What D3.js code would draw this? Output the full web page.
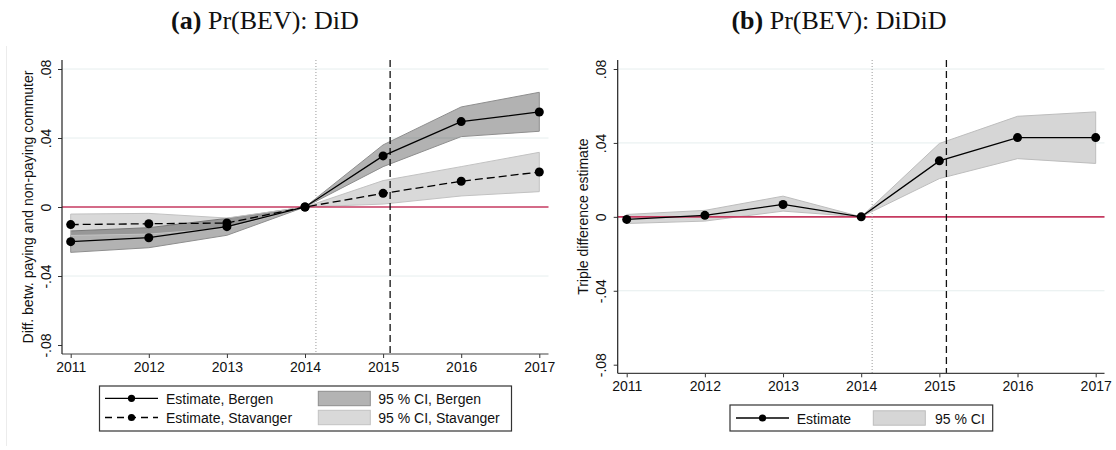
<!DOCTYPE html>
<html><head><meta charset="utf-8">
<script src="https://cdn.jsdelivr.net/npm/d3@7"></script>
<style>body{margin:0;background:#fff}</style>
</head><body><svg id="chart" width="1116" height="450"></svg>
<script>
// Event-study estimates of Pr(BEV), relative to 2014
const years = [2011, 2012, 2013, 2014, 2015, 2016, 2017];

const bergenEst = [-0.0201, -0.0178, -0.0114, 0, 0.0296, 0.0495, 0.0551];
const bergenLo  = [-0.0263, -0.0236, -0.0164, 0, 0.0234, 0.0408, 0.0439];
const bergenHi  = [-0.0139, -0.0120, -0.0066, 0, 0.0360, 0.0580, 0.0665];

const stavEst = [-0.0102, -0.0097, -0.0093, 0, 0.0079, 0.0149, 0.0203];
const stavLo  = [-0.0165, -0.0157, -0.0123, 0, 0.0017, 0.0064, 0.0089];
const stavHi  = [-0.0041, -0.0037, -0.0064, 0, 0.0153, 0.0234, 0.0317];

const tripleEst = [-0.0014, 0.0008, 0.0067, 0, 0.0303, 0.0429, 0.0429];
const tripleLo  = [-0.0036, -0.0023, 0.0031, 0, 0.0207, 0.0315, 0.0289];
const tripleHi  = [0.0013, 0.0035, 0.0112, 0, 0.0397, 0.0544, 0.0568];

const yTicks = [-0.08, -0.04, 0, 0.04, 0.08];
const yTickLabels = ["-.08", "-.04", "0", ".04", ".08"];
const gridValues = [-0.04, 0.04, 0.08];

// announcement (dotted) and introduction (dashed) of the toll change
const announceYear = 2014.14;
const introYear = 2015.09;

const titles = ["Pr(BEV): DiD", "Pr(BEV): DiDiD"];
const titleTags = ["(a)", "(b)"];
const yLabels = ["Diff. betw. paying and non-paying commuter", "Triple difference estimate"];

const svg = d3.select("#chart");
const SANS = "'Liberation Sans', Arial, sans-serif";
const SERIF = "'Liberation Serif', 'Times New Roman', serif";

function makeSeries(est, lo, hi) {
  return years.map((yr, i) => ({ year: yr, est: est[i], lo: lo[i], hi: hi[i] }));
}

function drawPanel(cfg) {
  const g = svg.append("g");
  const x = d3.scaleLinear().domain([2011, 2017]).range(cfg.xRange);
  const y = d3.scaleLinear().domain([-0.08, 0.08]).range(cfg.yRange);
  const f = cfg.frame;

  // gridlines
  g.selectAll("line.grid").data(gridValues).join("line")
    .attr("x1", f.left).attr("x2", f.right)
    .attr("y1", d => y(d)).attr("y2", d => y(d))
    .attr("stroke", "#e6eeee").attr("stroke-width", 1);

  // confidence bands
  const area = d3.area().x(d => x(d.year)).y0(d => y(d.lo)).y1(d => y(d.hi));
  cfg.bands.forEach(b => {
    g.append("path").datum(b.data).attr("d", area)
      .attr("fill", b.fill).attr("stroke", b.stroke).attr("stroke-width", 1);
  });

  // zero reference line
  g.append("line").attr("x1", f.left).attr("x2", f.right)
    .attr("y1", y(0)).attr("y2", y(0))
    .attr("stroke", "#c63a60").attr("stroke-width", 1.6);

  // policy timing lines
  g.append("line").attr("x1", x(announceYear)).attr("x2", x(announceYear))
    .attr("y1", f.top).attr("y2", f.bottom)
    .attr("stroke", "#9a9a9a").attr("stroke-width", 1).attr("stroke-dasharray", "1,2");
  g.append("line").attr("x1", x(introYear)).attr("x2", x(introYear))
    .attr("y1", f.top).attr("y2", f.bottom)
    .attr("stroke", "#111").attr("stroke-width", 1.3).attr("stroke-dasharray", "7,4");

  // estimate lines and markers
  const line = d3.line().x(d => x(d.year)).y(d => y(d.est));
  cfg.lines.forEach(l => {
    g.append("path").datum(l.data).attr("d", line)
      .attr("fill", "none").attr("stroke", "#000").attr("stroke-width", 1.3)
      .attr("stroke-dasharray", l.dash || null);
    g.selectAll(null).data(l.data).join("circle")
      .attr("cx", d => x(d.year)).attr("cy", d => y(d.est)).attr("r", 4.5)
      .attr("fill", "#000");
  });

  // axes
  const xAxis = g.append("g").attr("transform", `translate(0,${f.bottom})`)
    .call(d3.axisBottom(x).tickValues(years).tickFormat(d3.format("d")).tickSize(4).tickPadding(4));
  xAxis.attr("font-size", null).attr("font-family", null);
  xAxis.select(".domain").remove();
  xAxis.selectAll("text").attr("font-family", SANS).attr("font-size", 14).attr("fill", "#111");
  xAxis.selectAll("line").attr("stroke", "#333");

  const yAxis = g.append("g").attr("transform", `translate(${f.left},0)`)
    .call(d3.axisLeft(y).tickValues(yTicks).tickFormat((d, i) => yTickLabels[i]).tickSize(4));
  yAxis.attr("font-size", null).attr("font-family", null);
  yAxis.select(".domain").remove();
  yAxis.selectAll("line").attr("stroke", "#333");
  yAxis.selectAll("text")
    .attr("x", 0).attr("dy", 0)
    .attr("transform", `translate(${cfg.yTickOffset},0) rotate(-90)`)
    .attr("text-anchor", "middle")
    .attr("font-family", SANS).attr("font-size", 14).attr("fill", "#111");

  g.append("line").attr("x1", f.left).attr("x2", f.right).attr("y1", f.bottom).attr("y2", f.bottom)
    .attr("stroke", "#444").attr("stroke-width", 1.2);
  g.append("line").attr("x1", f.left).attr("x2", f.left).attr("y1", f.top).attr("y2", f.bottom)
    .attr("stroke", "#222").attr("stroke-width", 1.2);

  // y-axis title
  g.append("text")
    .attr("transform", `translate(${cfg.yLabelX},${(f.top + f.bottom) / 2}) rotate(-90)`)
    .attr("text-anchor", "middle")
    .attr("font-family", SANS).attr("font-size", 14).attr("fill", "#111")
    .text(cfg.yLabel);

  // panel title
  const t = svg.append("text")
    .attr("x", cfg.titleX).attr("y", 29)
    .attr("text-anchor", "middle")
    .attr("font-family", SERIF).attr("font-size", 26).attr("fill", "#111");
  t.append("tspan").attr("font-weight", "bold").text(cfg.tag);
  t.append("tspan").text(" " + cfg.title);

  // legend
  const L = cfg.legend;
  const lg = svg.append("g");
  lg.append("rect").attr("x", L.x).attr("y", L.y).attr("width", L.w).attr("height", L.h)
    .attr("fill", "#fff").attr("stroke", "#333").attr("stroke-width", 1.2);
  L.rows.forEach(r => {
    if (r.kind === "line") {
      lg.append("line").attr("x1", r.x).attr("x2", r.x + 53).attr("y1", r.y).attr("y2", r.y)
        .attr("stroke", "#000").attr("stroke-width", 1.3).attr("stroke-dasharray", r.dash || null);
      lg.append("circle").attr("cx", r.x + 26.5).attr("cy", r.y).attr("r", 3.6).attr("fill", "#000");
    } else {
      lg.append("rect").attr("x", r.x).attr("y", r.y - 7.2).attr("width", 52).attr("height", 14.4)
        .attr("fill", r.fill).attr("stroke", r.stroke).attr("stroke-width", 1);
    }
    lg.append("text").attr("x", r.tx).attr("y", r.y + 5.8)
      .attr("font-family", SANS).attr("font-size", 14).attr("fill", "#111").text(r.label);
  });
}

// faint outer border of the left graph region
svg.append("line").attr("x1", 6.5).attr("x2", 6.5).attr("y1", 46).attr("y2", 446)
  .attr("stroke", "#ececec").attr("stroke-width", 1);

drawPanel({
  xRange: [70.7, 539.3], yRange: [345, 69],
  frame: { left: 62, right: 548.5, top: 60, bottom: 354 },
  yTickOffset: -11.5, yLabelX: 32.5, yLabel: yLabels[0],
  tag: titleTags[0], title: titles[0], titleX: 265,
  bands: [
    { data: makeSeries(bergenEst, bergenLo, bergenHi), fill: "rgba(0,0,0,0.30)", stroke: "#8e8e8e" },
    { data: makeSeries(stavEst, stavLo, stavHi), fill: "rgba(0,0,0,0.15)", stroke: "#c2c2c2" }
  ],
  lines: [
    { data: makeSeries(bergenEst, bergenLo, bergenHi) },
    { data: makeSeries(stavEst, stavLo, stavHi), dash: "8,4" }
  ],
  legend: {
    x: 99.5, y: 386, w: 412, h: 45,
    rows: [
      { kind: "line", x: 105, y: 398.3, tx: 166, label: "Estimate, Bergen" },
      { kind: "line", x: 105, y: 417.5, tx: 166, label: "Estimate, Stavanger", dash: "7,5" },
      { kind: "box", x: 318.3, y: 398.5, tx: 378.3, label: "95 % CI, Bergen", fill: "#b3b3b3", stroke: "#8e8e8e" },
      { kind: "box", x: 318.3, y: 417.5, tx: 378.3, label: "95 % CI, Stavanger", fill: "#d9d9d9", stroke: "#c2c2c2" }
    ]
  }
});

drawPanel({
  xRange: [626.7, 1095.7], yRange: [364.7, 69],
  frame: { left: 617.7, right: 1104.5, top: 60, bottom: 373.3 },
  yTickOffset: -12, yLabelX: 588, yLabel: yLabels[1],
  tag: titleTags[1], title: titles[1], titleX: 839,
  bands: [
    { data: makeSeries(tripleEst, tripleLo, tripleHi), fill: "#d6d6d6", stroke: "#bdbdbd" }
  ],
  lines: [
    { data: makeSeries(tripleEst, tripleLo, tripleHi) }
  ],
  legend: {
    x: 730, y: 405, w: 262.7, h: 26,
    rows: [
      { kind: "line", x: 736, y: 418, tx: 796.7, label: "Estimate" },
      { kind: "box", x: 873.3, y: 418, tx: 935, label: "95 % CI", fill: "#d6d6d6", stroke: "#bdbdbd" }
    ]
  }
});
</script>
</body></html>
